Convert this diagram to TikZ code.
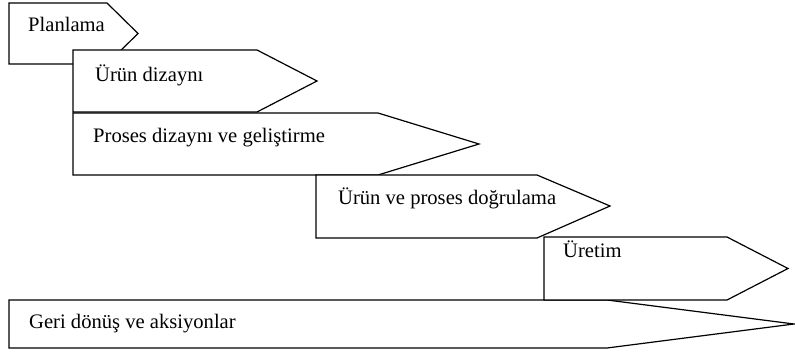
\documentclass[tikz,border=0pt]{standalone}
\usepackage{fontspec}
\setmainfont{Liberation Serif}
\tikzset{
  stagebox/.style={draw=black, fill=white, line width=1.2pt, line join=miter},
  stagetext/.style={anchor=base west, inner sep=0pt, font=\fontsize{20.6}{24}\selectfont}
}
\begin{document}
\begin{tikzpicture}[x=1pt, y=-1pt]
\useasboundingbox (0,0) rectangle (795,352);
% Planlama
\draw[stagebox] (9,3) -- (107,3) -- (138,33.5) -- (107,64) -- (9,64) -- cycle;
\node[stagetext] (t1) at (28,32) {Planlama};
% Urun dizayni
\draw[stagebox] (73,50) -- (257,50) -- (317,81) -- (257,112) -- (73,112) -- cycle;
\node[stagetext] (t2) at (95,82) {Ürün dizaynı};
% Proses dizayni
\draw[stagebox] (73,113) -- (378,113) -- (479,144) -- (378,175) -- (73,175) -- cycle;
\node[stagetext] (t3) at (93,143) {Proses dizaynı ve geliştirme};
% Urun ve proses dogrulama
\draw[stagebox] (316,175) -- (537,175) -- (610,206) -- (537,238) -- (316,238) -- cycle;
\node[stagetext] (t4) at (338,205) {Ürün ve proses doğrulama};
% Geri donus
\draw[stagebox] (9,300) -- (607,300) -- (794,324) -- (607,348) -- (9,348) -- cycle;
\node[stagetext] (t6) at (29,329) {Geri dönüş ve aksiyonlar};
% Uretim
\draw[stagebox] (544,237) -- (727,237) -- (788,268.5) -- (727,300) -- (544,300) -- cycle;
\node[stagetext] (t5) at (563,258) {Üretim};
\end{tikzpicture}
\end{document}
